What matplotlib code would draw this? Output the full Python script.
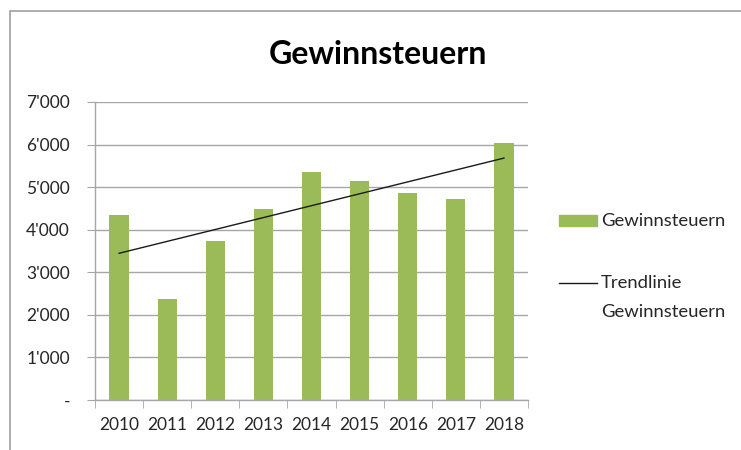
import numpy as np
import matplotlib
matplotlib.use("Agg")
import matplotlib.pyplot as plt
from matplotlib.patches import Rectangle
from matplotlib.lines import Line2D
from matplotlib.ticker import FixedLocator, FuncFormatter

plt.rcParams['font.family'] = ['Lato', 'DejaVu Sans']

# Data
years = ["2010", "2011", "2012", "2013", "2014", "2015", "2016", "2017", "2018"]
gewinnsteuern = [4340, 2370, 3740, 4495, 5355, 5145, 4870, 4730, 6035]
y_ticks = [0, 1000, 2000, 3000, 4000, 5000, 6000, 7000]

bar_color = "#9BBB59"
grid_color = "#A6A6A6"
text_color = "#262626"
trend_color = "#1a1a1a"


def fmt_thousands(v, pos):
    if v == 0:
        return "-"
    return f"{int(v):,}".replace(",", "'")


W, H = 741, 450
fig = plt.figure(figsize=(W / 100, H / 100), dpi=100)

# outer chart border (top and left visible)
fig.add_artist(Rectangle((10 / W, -0.1), 1.0, (H - 11) / H + 0.1,
                         transform=fig.transFigure, fill=False,
                         edgecolor="#A0A0A0", linewidth=1.2))

ax = fig.add_axes([95 / W, 1 - 400 / H, (528 - 95) / W, (400 - 102) / H])

x = np.arange(len(years))
ax.bar(x, gewinnsteuern, width=0.4, color=bar_color, zorder=2)

# linear trend line
coef = np.polyfit(x, gewinnsteuern, 1)
ax.plot(x, np.polyval(coef, x), color=trend_color, linewidth=1.0, zorder=3)

ax.set_xlim(-0.5, len(years) - 0.5)
ax.set_ylim(0, 7000)
ax.yaxis.set_major_locator(FixedLocator(y_ticks))
ax.yaxis.set_major_formatter(FuncFormatter(fmt_thousands))
ax.set_xticks(x)
ax.set_xticklabels(years)
ax.xaxis.set_minor_locator(FixedLocator(np.arange(-0.5, len(years), 1.0)))

ax.grid(axis="y", color=grid_color, linewidth=1.0, zorder=0)
ax.set_axisbelow(True)
for s in ["top", "right"]:
    ax.spines[s].set_visible(False)
for s in ["left", "bottom"]:
    ax.spines[s].set_color(grid_color)
    ax.spines[s].set_linewidth(1.0)

ax.tick_params(axis="y", length=6, color=grid_color, labelsize=12.5,
               labelcolor=text_color, pad=12)
ax.tick_params(axis="x", which="major", length=0, labelsize=12.5,
               labelcolor=text_color, pad=12)
ax.tick_params(axis="x", which="minor", length=6, color=grid_color)

fig.text(378 / W, 1 - 55 / H, "Gewinnsteuern", ha="center", va="center",
         fontsize=23, fontweight="bold", color="black")

# legend, drawn by hand so the line handle sits beside the first label line
fig.add_artist(Rectangle((559 / W, 1 - 226 / H), 38 / W, 11 / H,
                         transform=fig.transFigure, color=bar_color))
fig.text(601 / W, 1 - 221 / H, "Gewinnsteuern", ha="left", va="center",
         fontsize=13.3, color=text_color)
fig.add_artist(Line2D([559 / W, 597 / W], [1 - 283 / H, 1 - 283 / H],
                      transform=fig.transFigure, color=trend_color, linewidth=1.0))
fig.text(601 / W, 1 - 283 / H, "Trendlinie", ha="left", va="center",
         fontsize=13.3, color=text_color)
fig.text(601 / W, 1 - 312 / H, "Gewinnsteuern", ha="left", va="center",
         fontsize=13.3, color=text_color)

fig.savefig("out.png", dpi=100)
